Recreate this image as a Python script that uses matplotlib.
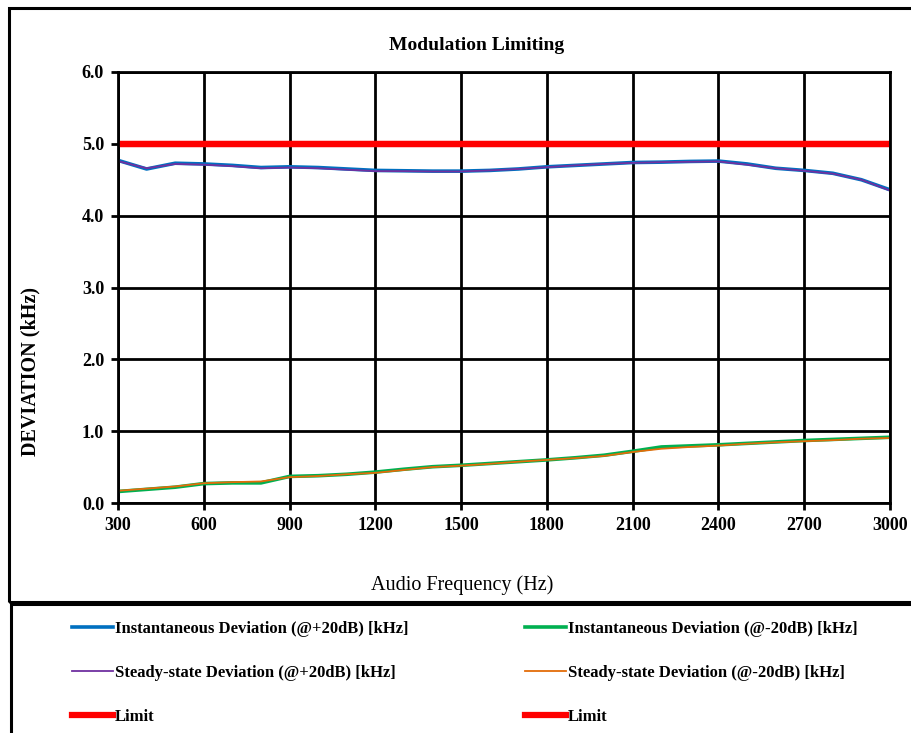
import matplotlib
matplotlib.use('Agg')
import matplotlib.pyplot as plt
from matplotlib.patches import Rectangle


freq = [300, 400, 500, 600, 700, 800, 900, 1000, 1100, 1200, 1300, 1400, 1500, 1600,
        1700, 1800, 1900, 2000, 2100, 2200, 2300, 2400, 2500, 2600, 2700, 2800, 2900, 3000]

inst_pos = [4.77, 4.65, 4.73, 4.72, 4.70, 4.67, 4.68, 4.67, 4.65, 4.63, 4.625, 4.62, 4.62, 4.63,
            4.65, 4.68, 4.70, 4.72, 4.74, 4.745, 4.755, 4.76, 4.72, 4.66, 4.63, 4.59, 4.50, 4.36]
steady_pos = [4.76, 4.66, 4.72, 4.71, 4.69, 4.66, 4.67, 4.66, 4.64, 4.62, 4.62, 4.615, 4.615, 4.63,
              4.65, 4.675, 4.70, 4.72, 4.735, 4.745, 4.75, 4.755, 4.71, 4.66, 4.625, 4.585, 4.50, 4.35]
inst_neg = [0.16, 0.19, 0.22, 0.27, 0.28, 0.28, 0.37, 0.38, 0.40, 0.43, 0.47, 0.505, 0.525, 0.55,
            0.575, 0.60, 0.63, 0.665, 0.72, 0.78, 0.795, 0.81, 0.83, 0.85, 0.87, 0.885, 0.90, 0.915]
steady_neg = [0.17, 0.20, 0.23, 0.275, 0.29, 0.30, 0.36, 0.375, 0.40, 0.42, 0.46, 0.50, 0.52, 0.545,
              0.575, 0.60, 0.625, 0.655, 0.71, 0.755, 0.78, 0.80, 0.825, 0.845, 0.86, 0.875, 0.895, 0.905]
limit = [5.0] * len(freq)

x_ticks = [300, 600, 900, 1200, 1500, 1800, 2100, 2400, 2700, 3000]
y_ticks = [0.0, 1.0, 2.0, 3.0, 4.0, 5.0, 6.0]

plt.rcParams['font.family'] = ['Liberation Serif', 'DejaVu Serif']

fig = plt.figure(figsize=(9.12, 7.33), dpi=100)
W, H = 912.0, 733.0

# outer chart frame and legend frame
fig.add_artist(Rectangle((9 / W, 1 - 602 / H), 2.0, (602 - 8) / H,
                         transform=fig.transFigure, fill=False, lw=2.2, ec='black'))
fig.add_artist(Rectangle((11 / W, -1.0), 2.0, 1 + (733 - 604) / H,
                         transform=fig.transFigure, fill=False, lw=2.2, ec='black'))

ax = fig.add_axes([118 / W, 1 - 503 / H, (890 - 118) / W, (503 - 72) / H])

l1, = ax.plot(freq, inst_pos, color='#0070C0', lw=2.6)
l3, = ax.plot(freq, steady_pos, color='#7030A0', lw=1.3)
l2, = ax.plot(freq, inst_neg, color='#00B050', lw=2.6)
l4, = ax.plot(freq, steady_neg, color='#E36C09', lw=1.3)
l5, = ax.plot(freq, limit, color='#FF0000', lw=4.5)
l6, = ax.plot(freq, limit, color='#FF0000', lw=4.5)

ax.set_xlim(300, 3000)
ax.set_ylim(0, 6)
ax.set_xticks(x_ticks)
ax.set_yticks(y_ticks)
ax.set_yticklabels(['%.1f' % v for v in y_ticks])
ax.grid(True, color='black', lw=2.0)
ax.set_axisbelow(True)
for s in ax.spines.values():
    s.set_linewidth(2.0)
ax.tick_params(direction='out', length=5, width=2.0, labelsize=13, pad=5)
for lab in ax.get_xticklabels() + ax.get_yticklabels():
    lab.set_fontweight('bold')

fig.text(477 / W, 1 - 46 / H, 'Modulation Limiting', fontsize=14, fontweight='bold',
         ha='center', va='center')
fig.text(462 / W, 1 - 585 / H, 'Audio Frequency (Hz)', fontsize=14.5,
         ha='center', va='center')
fig.text(30 / W, 1 - 372 / H, 'DEVIATION (kHz)', fontsize=14.5, fontweight='bold',
         rotation=90, ha='center', va='center')

handles = [l1, l3, l5, l2, l4, l6]
labels = ['Instantaneous Deviation (@+20dB) [kHz]',
          'Steady-state Deviation (@+20dB) [kHz]',
          'Limit',
          'Instantaneous Deviation (@-20dB) [kHz]',
          'Steady-state Deviation (@-20dB) [kHz]',
          'Limit']
fig.legend(handles, labels, ncol=2, frameon=False, loc='upper left',
           bbox_to_anchor=(57 / W, 1 - 606 / H), prop={'size': 12, 'weight': 'bold'},
           handlelength=2.45, handletextpad=0.12, labelspacing=1.68, columnspacing=7.0)

fig.savefig('out.png', dpi=100)
